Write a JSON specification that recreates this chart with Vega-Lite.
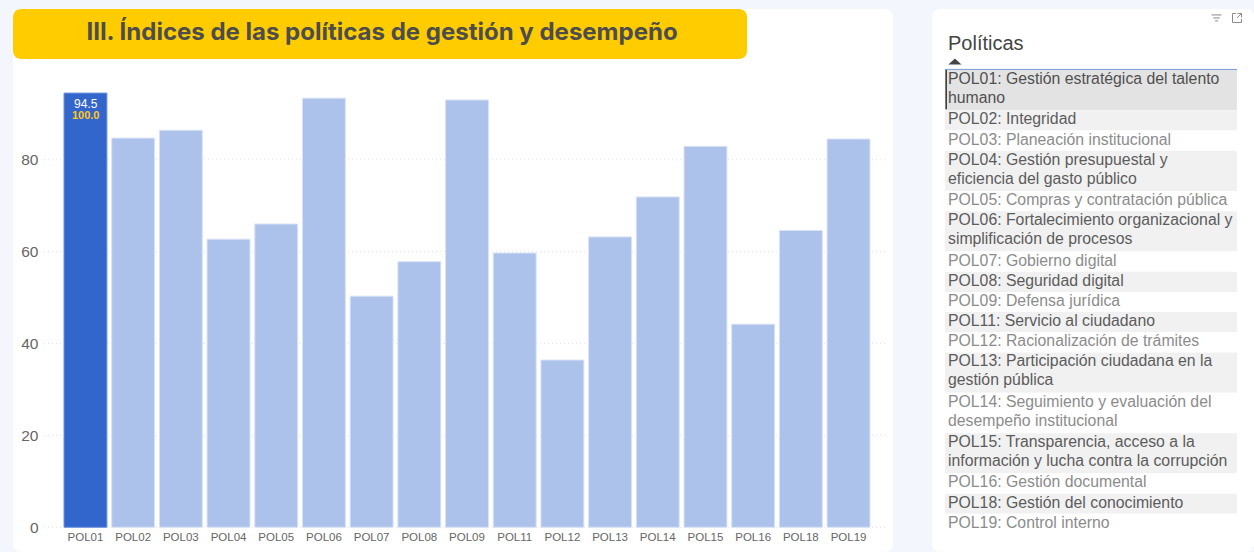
{
"$schema":"https://vega.github.io/schema/vega-lite/v6.json",
"background":"#f3f6fd",
"padding":{"left":13,"top":9,"right":0,"bottom":0},
"spacing":39,
"bounds":"flush",
"config":{"font":"Liberation Sans"},
"resolve":{"scale":{"fill":"independent","stroke":"independent","color":"independent"}},
"datasets":{
"indices":[
{"pol":"POL01","indice":94.5,"referencia":100.0,"estado":"seleccionada"},
{"pol":"POL02","indice":84.7,"estado":"otra"},
{"pol":"POL03","indice":86.4,"estado":"otra"},
{"pol":"POL04","indice":62.7,"estado":"otra"},
{"pol":"POL05","indice":66.0,"estado":"otra"},
{"pol":"POL06","indice":93.4,"estado":"otra"},
{"pol":"POL07","indice":50.3,"estado":"otra"},
{"pol":"POL08","indice":57.8,"estado":"otra"},
{"pol":"POL09","indice":93.0,"estado":"otra"},
{"pol":"POL11","indice":59.7,"estado":"otra"},
{"pol":"POL12","indice":36.4,"estado":"otra"},
{"pol":"POL13","indice":63.2,"estado":"otra"},
{"pol":"POL14","indice":71.9,"estado":"otra"},
{"pol":"POL15","indice":82.9,"estado":"otra"},
{"pol":"POL16","indice":44.2,"estado":"otra"},
{"pol":"POL18","indice":64.6,"estado":"otra"},
{"pol":"POL19","indice":84.5,"estado":"otra"}
],
"politicas":[
{"orden":1,"tabla":"Políticas","nombre":"POL01: Gestión estratégica del talento\nhumano","lineas":2,"fila":"seleccionada"},
{"orden":2,"tabla":"Políticas","nombre":"POL02: Integridad","lineas":1,"fila":"con datos"},
{"orden":3,"tabla":"Políticas","nombre":"POL03: Planeación institucional","lineas":1,"fila":"sin datos"},
{"orden":4,"tabla":"Políticas","nombre":"POL04: Gestión presupuestal y\neficiencia del gasto público","lineas":2,"fila":"con datos"},
{"orden":5,"tabla":"Políticas","nombre":"POL05: Compras y contratación pública","lineas":1,"fila":"sin datos"},
{"orden":6,"tabla":"Políticas","nombre":"POL06: Fortalecimiento organizacional y\nsimplificación de procesos","lineas":2,"fila":"con datos"},
{"orden":7,"tabla":"Políticas","nombre":"POL07: Gobierno digital","lineas":1,"fila":"sin datos"},
{"orden":8,"tabla":"Políticas","nombre":"POL08: Seguridad digital","lineas":1,"fila":"con datos"},
{"orden":9,"tabla":"Políticas","nombre":"POL09: Defensa jurídica","lineas":1,"fila":"sin datos"},
{"orden":10,"tabla":"Políticas","nombre":"POL11: Servicio al ciudadano","lineas":1,"fila":"con datos"},
{"orden":11,"tabla":"Políticas","nombre":"POL12: Racionalización de trámites","lineas":1,"fila":"sin datos"},
{"orden":12,"tabla":"Políticas","nombre":"POL13: Participación ciudadana en la\ngestión pública","lineas":2,"fila":"con datos"},
{"orden":13,"tabla":"Políticas","nombre":"POL14: Seguimiento y evaluación del\ndesempeño institucional","lineas":2,"fila":"sin datos"},
{"orden":14,"tabla":"Políticas","nombre":"POL15: Transparencia, acceso a la\ninformación y lucha contra la corrupción","lineas":2,"fila":"con datos"},
{"orden":15,"tabla":"Políticas","nombre":"POL16: Gestión documental","lineas":1,"fila":"sin datos"},
{"orden":16,"tabla":"Políticas","nombre":"POL18: Gestión del conocimiento","lineas":1,"fila":"con datos"},
{"orden":17,"tabla":"Políticas","nombre":"POL19: Control interno","lineas":1,"fila":"sin datos"}
]
},
"hconcat":[
{
"width":880,"height":543,
"view":{"fill":"white","stroke":null,"cornerRadius":8},
"resolve":{"scale":{"x":"independent","y":"independent"},"axis":{"x":"independent","y":"independent"}},
"layer":[
{
"data":{"values":[{"marca":0},{"marca":20},{"marca":40},{"marca":60},{"marca":80}]},
"mark":{"type":"rule","stroke":"#e4e4e4","strokeWidth":1,"strokeDash":[1,3]},
"encoding":{
"x":{"datum":0,"type":"quantitative","axis":null,"scale":{"domain":[0,1],"range":[31,874]}},
"x2":{"datum":1},
"y":{"field":"marca","type":"quantitative","axis":null,"scale":{"domain":[0,100],"range":[518.3,58.8]}}
}
},
{
"data":{"name":"indices"},
"mark":{"type":"bar","strokeWidth":1},
"encoding":{
"x":{"field":"pol","type":"nominal","sort":null,"title":null,
"scale":{"range":[51,857],"paddingInner":0.1,"paddingOuter":0},
"axis":{"labelAngle":0,"domain":false,"ticks":false,"offset":-24,"labelPadding":3,"labelFontSize":11.5,"labelColor":"#666666","labelFont":"Liberation Sans","grid":false}},
"y":{"field":"indice","type":"quantitative","title":null,
"scale":{"domain":[0,100],"range":[518.3,58.8]},
"axis":{"values":[0,20,40,60,80],"domain":false,"ticks":false,"grid":false,"offset":-25,"labelPadding":0,"labelFontSize":15.5,"labelColor":"#666666","labelFont":"Liberation Sans"}},
"fill":{"field":"estado","type":"nominal","legend":null,"scale":{"domain":["seleccionada","otra"],"range":["#3366cc","#adc2eb"]}},
"stroke":{"field":"estado","type":"nominal","legend":null,"scale":{"domain":["seleccionada","otra"],"range":["#6f93dc","#d9e3f6"]}}
}
},
{
"data":{"name":"indices"},
"transform":[{"filter":"datum.estado === 'seleccionada'"}],
"mark":{"type":"text","color":"white","fontSize":12,"dy":11,"dx":-2},
"encoding":{
"x":{"field":"pol","type":"nominal","axis":null,"scale":{"domain":["POL01","POL02","POL03","POL04","POL05","POL06","POL07","POL08","POL09","POL11","POL12","POL13","POL14","POL15","POL16","POL18","POL19"],"range":[51,857],"paddingInner":0.1,"paddingOuter":0}},
"y":{"field":"indice","type":"quantitative","axis":null,"scale":{"domain":[0,100],"range":[518.3,58.8]}},
"text":{"field":"indice","type":"quantitative","format":".1f"}
}
},
{
"data":{"name":"indices"},
"transform":[{"filter":"datum.estado === 'seleccionada'"}],
"mark":{"type":"text","color":"#ffc61a","fontSize":11,"fontWeight":"bold","dy":23,"dx":-2},
"encoding":{
"x":{"field":"pol","type":"nominal","axis":null,"scale":{"domain":["POL01","POL02","POL03","POL04","POL05","POL06","POL07","POL08","POL09","POL11","POL12","POL13","POL14","POL15","POL16","POL18","POL19"],"range":[51,857],"paddingInner":0.1,"paddingOuter":0}},
"y":{"field":"indice","type":"quantitative","axis":null,"scale":{"domain":[0,100],"range":[518.3,58.8]}},
"text":{"field":"referencia","type":"quantitative","format":".1f"}
}
},
{
"data":{"values":[{"titulo":"III. Índices de las políticas de gestión y desempeño"}]},
"mark":{"type":"rect","fill":"#ffcc00","cornerRadius":8},
"encoding":{
"x":{"field":"titulo","type":"nominal","axis":null,"scale":{"range":[0,734],"paddingInner":0,"paddingOuter":0}},
"y":{"field":"titulo","type":"nominal","axis":null,"scale":{"range":[0,50],"paddingInner":0,"paddingOuter":0}}
}
},
{
"data":{"values":[{"titulo":"III. Índices de las políticas de gestión y desempeño"}]},
"mark":{"type":"text","color":"#4d4d4d","font":"Inter","fontWeight":"bold","fontSize":24},
"encoding":{
"x":{"field":"titulo","type":"nominal","axis":null,"scale":{"range":[2,736],"paddingInner":0,"paddingOuter":0}},
"y":{"field":"titulo","type":"nominal","axis":null,"scale":{"range":[0,47],"paddingInner":0,"paddingOuter":0}},
"text":{"field":"titulo","type":"nominal"}
}
}
]
},
{
"width":322,"height":543,
"view":{"fill":"white","stroke":null,"cornerRadius":8},
"resolve":{"scale":{"x":"independent","y":"independent"}},
"layer":[
{
"data":{"name":"politicas"},
"mark":{"type":"bar"},
"encoding":{
"x":{"field":"tabla","type":"nominal","axis":null,"scale":{"range":[13,305],"paddingInner":0,"paddingOuter":0}},
"y":{"field":"lineas","type":"quantitative","stack":"zero","axis":null,"scale":{"domain":[0,23],"range":[61,525]}},
"order":{"field":"orden","type":"quantitative"},
"detail":{"field":"orden","type":"nominal"},
"fill":{"field":"fila","type":"nominal","legend":null,"scale":{"domain":["seleccionada","con datos","sin datos"],"range":["#e3e3e3","#f1f1f1","#ffffff"]}}
}
},
{
"data":{"name":"politicas"},
"mark":{"type":"text","align":"left","baseline":"top","fontSize":15.8,"lineBreak":"\n","lineHeight":19,"dx":3,"dy":2},
"encoding":{
"x":{"field":"tabla","type":"nominal","axis":null,"scale":{"range":[13,13],"paddingInner":0,"paddingOuter":0}},
"y":{"field":"lineas","type":"quantitative","stack":"zero","bandPosition":0,"axis":null,"scale":{"domain":[0,23],"range":[61,525]}},
"order":{"field":"orden","type":"quantitative"},
"detail":{"field":"orden","type":"nominal"},
"text":{"field":"nombre","type":"nominal"},
"color":{"field":"fila","type":"nominal","legend":null,"scale":{"domain":["seleccionada","con datos","sin datos"],"range":["#505050","#5c5c5c","#8c8c8c"]}}
}
},
{
"data":{"values":[{"encabezado":"Políticas"}]},
"mark":{"type":"text","align":"left","baseline":"middle","fontSize":20,"color":"#444444","dx":3},
"encoding":{
"x":{"datum":0,"type":"quantitative","axis":null,"scale":{"domain":[0,1],"range":[13,305]}},
"y":{"datum":-1.3,"type":"quantitative","axis":null,"scale":{"domain":[0,23],"range":[61,525]}},
"text":{"field":"encabezado","type":"nominal"}
}
},
{
"data":{"values":[{"elemento":"orden ascendente"}]},
"mark":{"type":"point","shape":"M-1,0.45L0,-0.45L1,0.45Z","filled":true,"color":"#444444","size":170,"opacity":1},
"encoding":{
"x":{"datum":0.034,"type":"quantitative","axis":null,"scale":{"domain":[0,1],"range":[13,305]}},
"y":{"datum":-0.42,"type":"quantitative","axis":null,"scale":{"domain":[0,23],"range":[61,525]}}
}
},
{
"data":{"values":[{"elemento":"borde superior"}]},
"mark":{"type":"rule","stroke":"#6f9bd0","strokeWidth":1},
"encoding":{
"x":{"datum":0,"type":"quantitative","axis":null,"scale":{"domain":[0,1],"range":[13,305]}},
"x2":{"datum":1},
"y":{"datum":-0.03,"type":"quantitative","axis":null,"scale":{"domain":[0,23],"range":[61,525]}}
}
},
{
"data":{"values":[{"elemento":"fila seleccionada"}]},
"mark":{"type":"rule","stroke":"#333333","strokeWidth":1.5},
"encoding":{
"x":{"datum":0.004,"type":"quantitative","axis":null,"scale":{"domain":[0,1],"range":[13,305]}},
"y":{"datum":0,"type":"quantitative","axis":null,"scale":{"domain":[0,23],"range":[61,525]}},
"y2":{"datum":1.95}
}
},
{
"data":{"values":[{"elemento":"filtro"}]},
"mark":{"type":"point","shape":"M-1,-0.6H1M-0.65,0H0.65M-0.3,0.6H0.3","filled":false,"stroke":"#8a8a8a","strokeWidth":1,"size":100,"opacity":1},
"encoding":{
"x":{"datum":0.93,"type":"quantitative","axis":null,"scale":{"domain":[0,1],"range":[13,305]}},
"y":{"datum":-2.58,"type":"quantitative","axis":null,"scale":{"domain":[0,23],"range":[61,525]}}
}
},
{
"data":{"values":[{"elemento":"expandir"}]},
"mark":{"type":"point","shape":"M-0.2,-0.9H-0.9V0.9H0.9V0.2M0.1,-0.9H0.9V-0.1M0.9,-0.9L0,0","filled":false,"stroke":"#8a8a8a","strokeWidth":1,"size":100,"opacity":1},
"encoding":{
"x":{"datum":1.0,"type":"quantitative","axis":null,"scale":{"domain":[0,1],"range":[13,305]}},
"y":{"datum":-2.58,"type":"quantitative","axis":null,"scale":{"domain":[0,23],"range":[61,525]}}
}
}
]
}
]
}
